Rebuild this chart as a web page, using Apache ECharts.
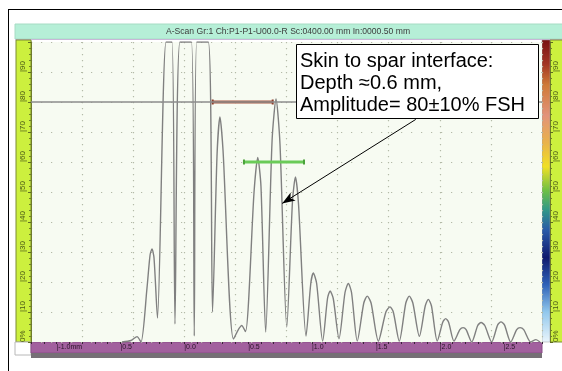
<!DOCTYPE html>
<html>
<head>
<meta charset="utf-8">
<script src="https://cdn.jsdelivr.net/npm/echarts@6.0.0/dist/echarts.min.js"></script>
<style>
	html, body { margin: 0; padding: 0; background: #ffffff; }
	#mainChart { width: 562px; height: 371px; }
</style>
</head>
<body>
<div id="mainChart"></div>
<script>
	// A-scan trace: depth (mm) and amplitude (% FSH)
	var echoDepth = [-0.488, -0.417, -0.370, -0.339, -0.292, -0.268, -0.253, -0.237, -0.210,
		-0.143, -0.096, -0.073, -0.034, 0.056, 0.078, 0.097, 0.188, 0.221,
		0.256, 0.279, 0.303, 0.385, 0.449, 0.479, 0.546, 0.575, 0.600, 0.637,
		0.687, 0.718, 0.749, 0.802, 0.847, 0.870, 0.894, 0.953,
		0.990, 1.010, 1.036, 1.083,
		1.121, 1.141, 1.166, 1.211,
		1.258, 1.284, 1.309, 1.354,
		1.405, 1.432, 1.462, 1.519,
		1.578, 1.610, 1.636, 1.683,
		1.734, 1.761, 1.789, 1.840,
		1.886, 1.910, 1.935, 1.980,
		2.023, 2.046, 2.069, 2.111,
		2.157, 2.182, 2.206, 2.250,
		2.297, 2.323, 2.352, 2.406,
		2.453, 2.479, 2.506, 2.555,
		2.602, 2.628, 2.657, 2.712,
		2.753, 2.784];
	var echoAmp = [0, 0.5, 1.8, 0, 18, 29, 31, 28, 8,
		100, 100, 6, 100, 100, 2, 100, 100, 10,
		62, 75, 64, 1, 5.5, 3.5, 50, 61.5, 52, 3.3,
		67, 81, 66, 5, 47, 55, 46, 2,
		19.5, 23, 19.5, 0.3,
		14.5, 17, 14.5, 1.1,
		16.5, 19.5, 16.5, 0.3,
		13, 15.3, 13, 0.3,
		10, 11.7, 10, 0.3,
		13, 15.3, 13, 1.9,
		12, 14.2, 12, 0.3,
		6.6, 7.8, 6.6, 0.3,
		4.1, 4.8, 4.1, 0,
		5.5, 6.5, 5.5, 0,
		5.7, 6.7, 5.7, 0,
		4.1, 4.8, 4.1, 0,
		0.8, 0];

	// gates: [start, end] depth and level
	var gateA = [0.222, 0.692];
	var gateALevel = 80;
	var gateB = [0.467, 0.937];
	var gateBLevel = 60;
	var refLevel = 80;

	// arrow from the note to the echo: [depth, amplitude]
	var arrowFrom = [1.812, 74.2];
	var arrowTo = [0.766, 46.2];

	var depthTicks = [-1.0, -0.5, 0.0, 0.5, 1.0, 1.5, 2.0, 2.5];
	var depthLabels = ['-1.0mm', '0.5', '0.0', '0.5', '1.0', '1.5', '2.0', '2.5'];

	var titleText = 'A-Scan Gr:1 Ch:P1-P1-U00.0-R Sc:0400.00 mm In:0000.50 mm';
	var noteLines = ['Skin to spar interface:', 'Depth \u22480.6 mm,', 'Amplitude= 80\u00b110% FSH'];

	function formatData() {
		var serData = [];
		for (var i = 0; i < echoDepth.length; i++) {
			serData.push([echoDepth[i], echoAmp[i]]);
		}
		return serData;
	}

	function depthLabel(v) {
		for (var i = 0; i < depthTicks.length; i++) {
			if (Math.abs(v - depthTicks[i]) < 1e-6) {
				return '|' + depthLabels[i];
			}
		}
		return '';
	}

	function ampLabel(v) {
		return v === 0 ? '0%' : '|' + v;
	}

	function scaleAxis(pos, margin) {
		return {
			type : 'value',
			position : pos,
			offset : pos === 'right' ? 8 : 0,
			min : 0,
			max : 100,
			interval : 10,
			axisLine : { show : true, onZero : false, lineStyle : { color : '#6e7c2a', width : 1 } },
			axisTick : { show : true, length : 3, lineStyle : { color : '#5d6a20' } },
			minorTick : { show : true, splitNumber : 5, length : 2, lineStyle : { color : '#6e7c2a' } },
			splitLine : {
				show : pos === 'left',
				lineStyle : { color : '#b4bba8', width : 1.2, type : [1.2, 8.8] }
			},
			axisLabel : {
				rotate : 90,
				align : 'left',
				verticalAlign : 'middle',
				margin : margin,
				showMaxLabel : false,
				fontSize : 8,
				fontFamily : 'Liberation Sans Narrow, Liberation Sans, sans-serif',
				color : '#4a5818',
				formatter : ampLabel
			}
		};
	}

	function initChart() {
		var myChart = echarts.init(document.getElementById('mainChart'), null, { renderer : 'canvas' });
		var option = {
			backgroundColor : '#ffffff',
			animation : false,
			grid : {
				left : 31,
				right : 20,
				top : 42,
				bottom : 29,
				show : true,
				backgroundColor : '#f7fbf2',
				borderWidth : 0
			},
			xAxis : [ {
				type : 'value',
				min : -1.2,
				max : 2.8,
				interval : 0.4,
				axisLine : { show : false, onZero : false },
				axisTick : { show : false },
				axisLabel : { show : false },
				splitLine : {
					show : true,
					lineStyle : { color : '#b4bba8', width : 1.2, type : [1.2, 4.8] }
				}
			}, {
				type : 'value',
				position : 'bottom',
				min : -1.2,
				max : 2.8,
				interval : 0.1,
				axisLine : { show : false, onZero : false },
				axisTick : { show : true, length : 2, lineStyle : { color : '#3a2238' } },
				splitLine : { show : false },
				axisLabel : {
					align : 'left',
					margin : 2,
					fontSize : 7,
					fontFamily : 'Liberation Sans Narrow, Liberation Sans, sans-serif',
					color : '#2a1428',
					formatter : depthLabel
				}
			} ],
			yAxis : [ scaleAxis('left', 8), scaleAxis('right', 6) ],
			graphic : [
				// frame
				{ type : 'line', z : -1, shape : { x1 : 8, y1 : 9.5, x2 : 562, y2 : 9.5 }, style : { stroke : '#000', lineWidth : 1 } },
				{ type : 'line', z : -1, shape : { x1 : 8.5, y1 : 9, x2 : 8.5, y2 : 371 }, style : { stroke : '#000', lineWidth : 1 } },
				// title bar
				{ type : 'rect', z : -1, shape : { x : 15, y : 24, width : 548, height : 15 }, style : { fill : '#b6efd7', stroke : '#a6dcc4' } },
				{ type : 'line', z : -1, shape : { x1 : 15, y1 : 39.5, x2 : 562, y2 : 39.5 }, style : { stroke : '#c8b8d8', lineWidth : 1 } },
				{ type : 'text', z : -1, x : 288, y : 31.5, style : {
					text : titleText, fill : '#3c3c3c', align : 'center', verticalAlign : 'middle',
					font : '8.6px "Liberation Sans Narrow", "Liberation Sans", sans-serif' } },
				// amplitude scales
				{ type : 'rect', z : -1, shape : { x : 16, y : 40, width : 15, height : 302 }, style : { fill : '#ccf03e', stroke : '#7a8a34' } },
				{ type : 'rect', z : -1, shape : { x : 550, y : 40, width : 13, height : 302 }, style : { fill : '#ccf03e', stroke : '#7a8a34' } },
				{ type : 'rect', z : -1, shape : { x : 542, y : 40, width : 8, height : 302 }, style : {
					stroke : '#9a9a9a', lineWidth : 0.5,
					fill : new echarts.graphic.LinearGradient(0, 0, 0, 1, [
						{ offset : 0, color : '#7a1212' },
						{ offset : 0.08, color : '#a23624' },
						{ offset : 0.15, color : '#cf7a36' },
						{ offset : 0.25, color : '#e2937a' },
						{ offset : 0.34, color : '#e9b24a' },
						{ offset : 0.42, color : '#f0e024' },
						{ offset : 0.5, color : '#6cbf45' },
						{ offset : 0.56, color : '#339a86' },
						{ offset : 0.63, color : '#2a5aa8' },
						{ offset : 0.72, color : '#101a6e' },
						{ offset : 0.81, color : '#2f62b8' },
						{ offset : 0.9, color : '#92c8ec' },
						{ offset : 1, color : '#eaf5fb' }
					]) } },
				// depth bar
				{ type : 'rect', z : -1, shape : { x : 15, y : 342, width : 16, height : 13 }, style : { fill : '#ffffff', stroke : '#b8b8b8' } },
				{ type : 'rect', z : -1, shape : { x : 31, y : 342, width : 511, height : 11 }, style : { fill : '#a2609e', stroke : '#8a4c88' } },
				{ type : 'rect', z : -1, shape : { x : 31, y : 353, width : 511, height : 5 }, style : { fill : '#767076' } },
				// note
				{ type : 'group', z : 100, children : [
					{ type : 'rect', z : 100, shape : { x : 296.5, y : 44.5, width : 242, height : 74 }, style : { fill : '#ffffff', stroke : '#000000', lineWidth : 1 } },
					{ type : 'text', z : 101, x : 300, y : 50, style : {
						text : noteLines.join('\n'), fill : '#000000', lineHeight : 22,
						font : '20px "Liberation Sans", Arial, sans-serif', verticalAlign : 'top' } }
				] }
			],
			series : [ {
				name : 'A-scan',
				type : 'line',
				xAxisIndex : 0,
				yAxisIndex : 0,
				data : formatData(),
				showSymbol : false,
				smooth : 0.25,
				clip : true,
				lineStyle : { color : '#808080', width : 1.4 },
				z : 3,
				markLine : {
					silent : true,
					animation : false,
					symbol : [ 'none', 'none' ],
					label : { show : false },
					data : [
						{ yAxis : refLevel, lineStyle : { color : '#8c8c8c', width : 1.5, type : 'solid' } },
						[ { coord : arrowFrom, symbol : 'none', lineStyle : { color : '#000', width : 1, type : 'solid' } },
						  { coord : arrowTo, symbol : 'arrow', symbolSize : [ 7, 13 ] } ]
					]
				}
			}, {
				name : 'gate A',
				type : 'line',
				data : [ [ gateA[0], gateALevel ], [ gateA[1], gateALevel ] ],
				symbol : 'rect',
				symbolSize : [ 2, 5 ],
				lineStyle : { color : '#a8553f', width : 3 },
				itemStyle : { color : '#8a3e2c' },
				z : 4
			}, {
				name : 'gate B',
				type : 'line',
				data : [ [ gateB[0], gateBLevel ], [ gateB[1], gateBLevel ] ],
				symbol : 'rect',
				symbolSize : [ 2, 5 ],
				lineStyle : { color : '#6acb58', width : 3 },
				itemStyle : { color : '#4aa23a' },
				z : 4
			} ]
		};
		myChart.setOption(option, true);
	}

	initChart();
</script>
</body>
</html>
